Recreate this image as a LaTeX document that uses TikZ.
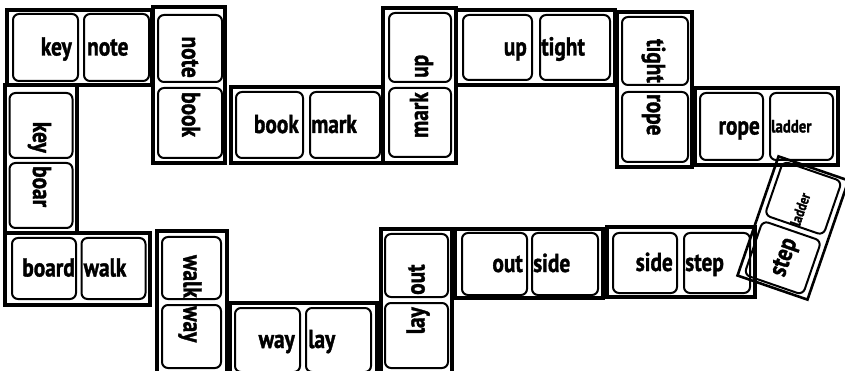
\documentclass[tikz,border=0pt]{standalone}
\usepackage{fontspec}
\setmainfont{PT Sans}[FakeStretch=0.82, BoldFeatures={FakeBold=1.3}]
\usepackage{tikz}

\begin{document}
\begin{tikzpicture}[x=1pt, y=-1pt,
    outer/.style={draw=black, line width=3.4pt},
    tile/.style={draw=black, rounded corners=6pt, line width=2pt, inner sep=0pt},
    word/.style={font=\bfseries\fontsize{26}{26}\selectfont, inner sep=1pt, text height=19pt, text depth=3pt},
    small/.style={font=\bfseries\fontsize{18}{18}\selectfont, inner sep=1pt, text height=14pt, text depth=2pt}]
        \useasboundingbox (0, 0) rectangle (845, 371);

        % key note
        \draw [outer] (7, 10) rectangle (152, 85);
        \node [tile, minimum width=65, minimum height=67] (d1a) at (45.5, 47.5) {};
        \node [tile, minimum width=65, minimum height=67] (d1b) at (116.5, 47.5) {};
        \node [word, anchor=east] (w1a) at ([xshift=-6pt]d1a.east) {key};
        \node [word, anchor=west] (w1b) at ([xshift=3pt]d1b.west) {note};

        % note book
        \draw [outer] (153, 7) rectangle (225, 163);
        \node [tile, minimum width=64, minimum height=67] (d2a) at (190, 48.5) {};
        \node [tile, minimum width=64, minimum height=70] (d2b) at (190, 123) {};
        \node [word, rotate=-90, anchor=east] (w2a) at ([yshift=4pt]d2a.south) {note};
        \node [word, rotate=-90, anchor=west] (w2b) at ([yshift=-4pt]d2b.north) {book};

        % key boar
        \draw [outer] (5, 85) rectangle (77, 233);
        \node [tile, minimum width=63, minimum height=65] (d3a) at (41, 125.5) {};
        \node [tile, minimum width=63, minimum height=65] (d3b) at (41, 195.5) {};
        \node [word, rotate=-90, anchor=east] (w3a) at ([yshift=5pt]d3a.south) {key};
        \node [word, rotate=-90, anchor=west] (w3b) at ([yshift=-3pt]d3b.north) {boar};

        % board walk
        \draw [outer] (5, 233) rectangle (150, 305);
        \node [tile, minimum width=64, minimum height=61] (d4a) at (44, 268.5) {};
        \node [tile, minimum width=64, minimum height=61] (d4b) at (113.5, 268.5) {};
        \node [word, anchor=east] (w4a) at ([xshift=-1pt]d4a.east) {board};
        \node [word, anchor=west] (w4b) at ([xshift=2pt]d4b.west) {walk};

        % walk way
        \draw [outer] (157, 231) rectangle (227, 380);
        \node [tile, minimum width=59, minimum height=62] (d5a) at (191.5, 268) {};
        \node [tile, minimum width=59, minimum height=63] (d5b) at (191.5, 336.5) {};
        \node [word, rotate=-90, anchor=east] (w5a) at ([yshift=1pt]d5a.south) {walk};
        \node [word, rotate=-90, anchor=west] (w5b) at ([yshift=-1pt]d5b.north) {way};

        % way lay
        \draw [outer] (230, 303) rectangle (377, 380);
        \node [tile, minimum width=65, minimum height=64] (d6a) at (267.5, 340) {};
        \node [tile, minimum width=65, minimum height=64] (d6b) at (338.5, 340) {};
        \node [word, anchor=east] (w6a) at ([xshift=-5pt]d6a.east) {way};
        \node [word, anchor=west] (w6b) at ([xshift=2pt]d6b.west) {lay};

        % book mark
        \draw [outer] (231, 87) rectangle (383, 163);
        \node [tile, minimum width=67, minimum height=66] (d7a) at (269.5, 125) {};
        \node [tile, minimum width=70, minimum height=66] (d7b) at (345, 125) {};
        \node [word, anchor=east] (w7a) at ([xshift=-4pt]d7a.east) {book};
        \node [word, anchor=west] (w7b) at ([xshift=1pt]d7b.west) {mark};

        % mark up
        \draw [outer] (383, 8) rectangle (456, 163);
        \node [tile, minimum width=62, minimum height=69] (d8a) at (420, 47.5) {};
        \node [tile, minimum width=62, minimum height=69] (d8b) at (420, 122.5) {};
        \node [word, rotate=90, anchor=west] (w8a) at ([yshift=4pt]d8a.south) {up};
        \node [word, rotate=90, anchor=east] (w8b) at ([yshift=-4pt]d8b.north) {mark};

        % up tight
        \draw [outer] (456, 10) rectangle (615, 85);
        \node [tile, minimum width=69, minimum height=65] (d9a) at (497.5, 47.5) {};
        \node [tile, minimum width=70, minimum height=65] (d9b) at (575, 47.5) {};
        \node [word, anchor=east] (w9a) at ([xshift=-5pt]d9a.east) {up};
        \node [word, anchor=west] (w9b) at ([xshift=1pt]d9b.west) {tight};

        % tight rope
        \draw [outer] (617, 12) rectangle (692, 167);
        \node [tile, minimum width=66, minimum height=68] (d10a) at (655, 51) {};
        \node [tile, minimum width=66, minimum height=70] (d10b) at (655, 127) {};
        \node [word, rotate=-90, anchor=east] (w10a) at ([yshift=2pt]d10a.south) {tight};
        \node [word, rotate=-90, anchor=west] (w10b) at ([yshift=-2pt]d10b.north) {rope};

        % rope ladder
        \draw [outer] (695, 88) rectangle (838, 165);
        \node [tile, minimum width=63, minimum height=67] (d11a) at (731.5, 126.5) {};
        \node [tile, minimum width=63, minimum height=67] (d11b) at (801.5, 126.5) {};
        \node [word, anchor=east] (w11a) at ([xshift=-3pt]d11a.east) {rope};
        \node [small, anchor=west] (w11b) at ([xshift=1pt]d11b.west) {ladder};

        % ladder step, tipped over
        \begin{scope}[shift={(793, 228)}, rotate=-19, transform shape]
            \draw [outer, line width=2.6pt] (-37, -63) rectangle (37, 63);
            \node [tile, minimum width=62, minimum height=57] (d12a) at (0, -31.5) {};
            \node [tile, minimum width=62, minimum height=57] (d12b) at (0, 31.5) {};
            \node [small, rotate=90, anchor=west, font=\bfseries\fontsize{15}{15}\selectfont] (w12a) at (0, -2) {ladder};
            \node [word, rotate=90, anchor=east, font=\bfseries\fontsize{26}{26}\selectfont] (w12b) at (0, 10) {step};
        \end{scope}

        % side step
        \draw [outer] (607, 227) rectangle (755, 297);
        \node [tile, minimum width=64, minimum height=60] (d13a) at (645, 263) {};
        \node [tile, minimum width=66, minimum height=60] (d13b) at (717, 263) {};
        \node [word, anchor=east] (w13a) at ([xshift=-4pt]d13a.east) {side};
        \node [word, anchor=west] (w13b) at ([xshift=1pt]d13b.west) {step};

        % out side
        \draw [outer] (455, 229) rectangle (603, 298);
        \node [tile, minimum width=65, minimum height=62] (d14a) at (494.5, 264) {};
        \node [tile, minimum width=66, minimum height=62] (d14b) at (565, 264) {};
        \node [word, anchor=east] (w14a) at ([xshift=-4pt]d14a.east) {out};
        \node [word, anchor=west] (w14b) at ([xshift=1pt]d14b.west) {side};

        % lay out
        \draw [outer] (381, 229) rectangle (452, 380);
        \node [tile, minimum width=63, minimum height=63] (d15a) at (416.5, 265.5) {};
        \node [tile, minimum width=63, minimum height=65] (d15b) at (416.5, 335.5) {};
        \node [word, rotate=90, anchor=west] (w15a) at ([yshift=2pt]d15a.south) {out};
        \node [word, rotate=90, anchor=east] (w15b) at ([yshift=-4pt]d15b.north) {lay};
    \end{tikzpicture}
\end{document}
